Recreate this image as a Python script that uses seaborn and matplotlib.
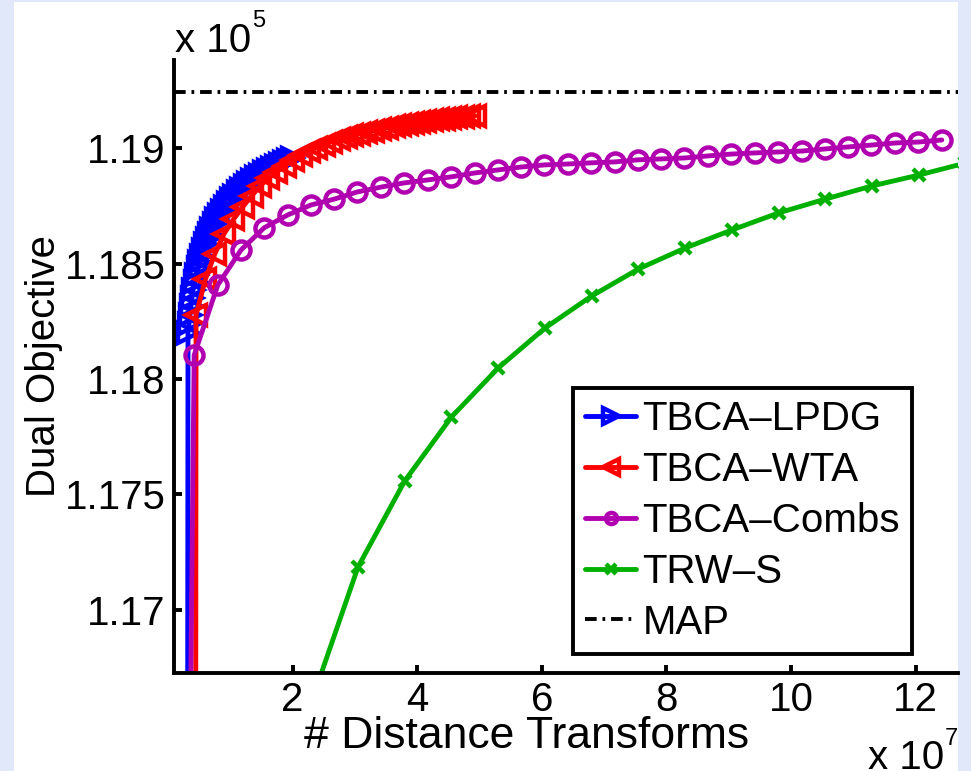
import matplotlib
matplotlib.use("Agg")
import matplotlib.pyplot as plt
import seaborn as sns
from matplotlib.patches import Rectangle

# x in units of 1e7 distance transforms, y in units of 1e5 (dual objective)
lpdg_x = [0.31, 0.321, 0.337, 0.353, 0.369, 0.385, 0.401, 0.433, 0.449, 0.481, 0.497,
          0.529, 0.562, 0.594, 0.626, 0.658, 0.690, 0.738, 0.770, 0.818, 0.866, 0.914,
          0.963, 1.011, 1.059, 1.123, 1.171, 1.235, 1.283, 1.348, 1.412, 1.476, 1.540,
          1.604, 1.668, 1.733, 1.797, 1.861, 1.925, 1.989]
lpdg_y = [1.150, 1.18200, 1.18239, 1.18278, 1.18317, 1.18351, 1.18386, 1.18421, 1.18451,
          1.18481, 1.18507, 1.18533, 1.18559, 1.18585, 1.18607, 1.18629, 1.18650, 1.18672,
          1.18694, 1.18711, 1.18728, 1.18746, 1.18763, 1.18780, 1.18793, 1.18811, 1.18824,
          1.18837, 1.18850, 1.18863, 1.18876, 1.18884, 1.18897, 1.18906, 1.18915, 1.18923,
          1.18932, 1.18941, 1.18950, 1.18958]

wta_x = [0.44, 0.45, 0.60, 0.75, 0.90, 1.05, 1.20, 1.34, 1.48, 1.61, 1.74, 1.87, 2.00,
         2.13, 2.26, 2.38, 2.50, 2.62, 2.74, 2.85, 2.96, 3.07, 3.18, 3.29, 3.40, 3.51,
         3.62, 3.73, 3.83, 3.93, 4.03, 4.13, 4.23, 4.33, 4.43, 4.53, 4.63, 4.73, 4.83, 4.93]
wta_y = [1.150, 1.18278, 1.18432, 1.18542, 1.18630, 1.18692, 1.18747, 1.18793, 1.18838,
         1.18870, 1.18898, 1.18924, 1.18948, 1.18969, 1.18990, 1.19003, 1.19016, 1.19029,
         1.19040, 1.19048, 1.19057, 1.19064, 1.19070, 1.19077, 1.19085, 1.19090, 1.19095,
         1.19101, 1.19106, 1.19111, 1.19115, 1.19118, 1.19122, 1.19125, 1.19129, 1.19132,
         1.19134, 1.19136, 1.19138, 1.19141]

combs_x = [0.30, 0.42, 0.80, 1.17, 1.54, 1.92, 2.29, 2.67, 3.04, 3.42, 3.79, 4.17, 4.54,
           4.92, 5.29, 5.67, 6.04, 6.42, 6.79, 7.17, 7.54, 7.92, 8.29, 8.67, 9.04, 9.42,
           9.79, 10.17, 10.54, 10.92, 11.29, 11.67, 12.04, 12.42]
combs_y = [1.150, 1.18104, 1.18408, 1.18559, 1.18655, 1.18711, 1.18754, 1.18780, 1.18811,
           1.18832, 1.18850, 1.18863, 1.18876, 1.18893, 1.18906, 1.18919, 1.18928, 1.18932,
           1.18937, 1.18941, 1.18950, 1.18954, 1.18958, 1.18967, 1.18975, 1.18980, 1.18984,
           1.18988, 1.18997, 1.19006, 1.19014, 1.19023, 1.19027, 1.19036]

trws_x = [2.30, 3.05, 3.80, 4.55, 5.30, 6.05, 6.80, 7.55, 8.30, 9.05, 9.80, 10.55,
          11.30, 12.05, 12.80]
trws_y = [1.1660, 1.17186, 1.17559, 1.17836, 1.18048, 1.18221, 1.18360, 1.18477, 1.18568,
          1.18646, 1.18720, 1.18780, 1.18837, 1.18884, 1.18936]

map_value = 1.19243

labels = ["TBCA\u2013LPDG", "TBCA\u2013WTA", "TBCA\u2013Combs", "TRW\u2013S", "MAP"]
x_ticks = [2, 4, 6, 8, 10, 12]
y_ticks = [1.17, 1.175, 1.18, 1.185, 1.19]
y_tick_labels = ["1.17", "1.175", "1.18", "1.185", "1.19"]

sns.set_style("white")
plt.rcParams["font.family"] = ["Liberation Sans", "DejaVu Sans"]
plt.rcParams["text.color"] = "black"
plt.rcParams["axes.labelcolor"] = "black"
plt.rcParams["xtick.color"] = "black"
plt.rcParams["ytick.color"] = "black"
FS = 29

fig = plt.figure(figsize=(9.71, 7.71), dpi=100)
fig.patch.set_facecolor("#E0E8FA")
fig.patches.append(Rectangle((14 / 971, 0), (958 - 14) / 971, 769 / 771,
                             transform=fig.transFigure, facecolor="white",
                             edgecolor="none", zorder=-5))

ax = fig.add_axes([174 / 971, 1 - 673 / 771, (958 - 174) / 971, (673 - 60) / 771])
ax.set_facecolor("white")

line_kw = dict(linewidth=3.5, markerfacecolor="none", markeredgewidth=3.2,
               sort=False, estimator=None, ax=ax)
sns.lineplot(x=lpdg_x, y=lpdg_y, color="#0000FF", marker=">", markersize=14,
             markeredgecolor="#0000FF", label=labels[0], **line_kw)
sns.lineplot(x=wta_x, y=wta_y, color="#FF0000", marker="<", markersize=14,
             markeredgecolor="#FF0000", label=labels[1], **line_kw)
sns.lineplot(x=combs_x, y=combs_y, color="#B000B0", marker="o", markersize=13,
             markeredgecolor="#B000B0", label=labels[2], **line_kw)
sns.lineplot(x=trws_x, y=trws_y, color="#00B000", marker="x", markersize=9,
             markeredgecolor="#00B000", label=labels[3], **line_kw)
ax.axhline(map_value, color="black", linewidth=2.8, dashes=(3.0, 1.5, 0.7, 1.5),
           label=labels[4])

ax.set_xlim(0.096, 12.68)
ax.set_ylim(1.167265, 1.193826)
ax.set_xticks(x_ticks)
ax.set_xticklabels([str(t) for t in x_ticks])
ax.set_yticks(y_ticks)
ax.set_yticklabels(y_tick_labels)
ax.tick_params(direction="in", length=6, width=2.8, labelsize=FS, pad=6,
               colors="black", left=True, bottom=True)

for side in ["top", "right"]:
    ax.spines[side].set_visible(False)
for side in ["left", "bottom"]:
    ax.spines[side].set_linewidth(2.8)
    ax.spines[side].set_color("black")

ax.set_xlabel("# Distance Transforms", fontsize=32)
ax.xaxis.set_label_coords(0.45, -0.070)
ax.set_ylabel("Dual Objective", fontsize=FS)
ax.yaxis.set_label_coords(-0.142, 0.5)

leg = ax.legend(loc="upper left", bbox_to_anchor=(0.509, 0.465), borderaxespad=0,
                frameon=True, fancybox=False, edgecolor="black", framealpha=1,
                fontsize=FS, handlelength=1.27, handletextpad=0.15, borderpad=0.30,
                labelspacing=0.32, numpoints=1)
leg.get_frame().set_linewidth(2.8)
for h, ms in zip(leg.legend_handles, [11, 11, 8, 7, None]):
    if ms is not None:
        h.set_markersize(ms)

fig.text(175 / 971, 1 - 52 / 771, "x 10", fontsize=FS, va="baseline", ha="left")
fig.text(252 / 971, 1 - 27 / 771, "5", fontsize=17, va="baseline", ha="left")
fig.text(868 / 971, 1 - 769 / 771, "x 10", fontsize=FS, va="baseline", ha="left")
fig.text(945 / 971, 1 - 745 / 771, "7", fontsize=17, va="baseline", ha="left")

fig.savefig("out.png", dpi=100, facecolor=fig.get_facecolor())
